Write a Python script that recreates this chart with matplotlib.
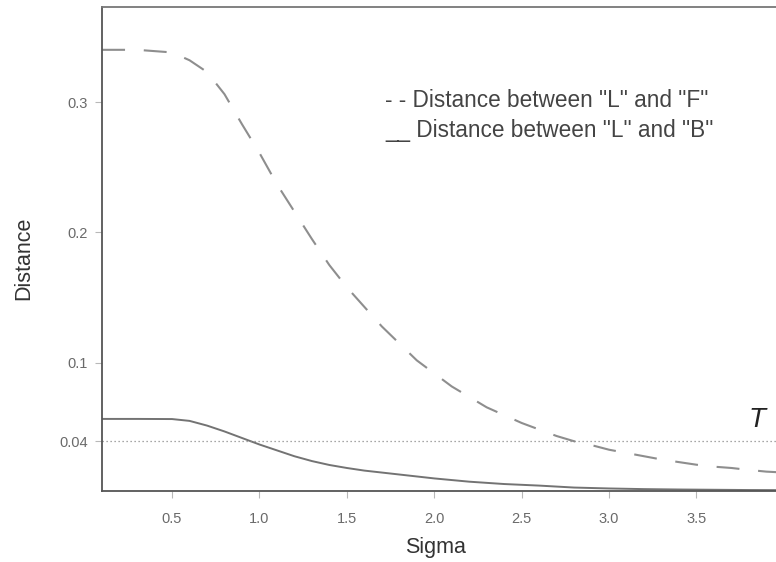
import matplotlib
matplotlib.use("Agg")
import matplotlib.pyplot as plt

plt.rcParams['font.family'] = ['Liberation Sans', 'DejaVu Sans']

sigma_lf = [0.10, 0.30, 0.50, 0.60, 0.70, 0.80, 0.90, 1.00, 1.10, 1.20, 1.30, 1.40,
            1.50, 1.60, 1.70, 1.80, 1.90, 2.00, 2.10, 2.20, 2.30, 2.40, 2.50, 2.60,
            2.70, 2.80, 2.90, 3.00, 3.10, 3.20, 3.30, 3.40, 3.50, 3.60, 3.70, 3.80,
            3.90, 4.00]
dist_lf = [0.340, 0.340, 0.338, 0.332, 0.323, 0.306, 0.283, 0.261, 0.237, 0.216, 0.195,
           0.175, 0.158, 0.143, 0.128, 0.115, 0.102, 0.092, 0.082, 0.074, 0.066, 0.060,
           0.054, 0.049, 0.044, 0.040, 0.037, 0.0335, 0.031, 0.0285, 0.026, 0.024,
           0.022, 0.0205, 0.0195, 0.018, 0.0167, 0.016]

sigma_lb = [0.10, 0.30, 0.50, 0.60, 0.70, 0.80, 0.90, 1.00, 1.10, 1.20, 1.30, 1.40,
            1.50, 1.60, 1.70, 1.80, 1.90, 2.00, 2.20, 2.40, 2.60, 2.80, 3.00, 3.20,
            3.40, 3.60, 3.80, 4.00]
dist_lb = [0.0571, 0.0571, 0.0570, 0.0556, 0.0520, 0.0475, 0.0425, 0.0375, 0.0330,
           0.0285, 0.0248, 0.0218, 0.0195, 0.0175, 0.0160, 0.0145, 0.0130, 0.0115,
           0.0090, 0.0072, 0.0060, 0.0045, 0.0038, 0.0033, 0.0030, 0.0028, 0.0026,
           0.0025]

threshold = 0.04
x_ticks = [0.5, 1.0, 1.5, 2.0, 2.5, 3.0, 3.5]
x_ticklabels = ["0.5", "1.0", "1.5", "2.0", "2.5", "3.0", "3.5"]
y_ticks = [0.04, 0.1, 0.2, 0.3]
y_ticklabels = ["0.04", "0.1", "0.2", "0.3"]
legend_labels = ['- - Distance between "L" and "F"', '__ Distance between "L" and "B"']

fig = plt.figure(figsize=(7.76, 5.62), dpi=100)
ax = fig.add_axes([0.1316, 0.1269, 0.8785, 0.8606])

ax.plot(sigma_lf, dist_lf, color='#8e8e8e', lw=1.5, linestyle=(0, (11, 9)))
ax.plot(sigma_lb, dist_lb, color='#737373', lw=1.4)
ax.axhline(threshold, color='#8a8a8a', lw=0.9, linestyle=(0, (1, 2.2)))

ax.set_xlim(0.1, 4.0)
ax.set_ylim(0.0021, 0.3728)
ax.set_xticks(x_ticks)
ax.set_xticklabels(x_ticklabels)
ax.set_yticks(y_ticks)
ax.set_yticklabels(y_ticklabels)
ax.tick_params(axis='both', colors='#b8b8b8', labelcolor='#6a6a6a', labelsize=10.5,
               length=5, width=0.8)
ax.tick_params(axis='x', pad=10)
ax.tick_params(axis='y', pad=5)

for side in ['left', 'bottom', 'top']:
    ax.spines[side].set_color('#555555')
    ax.spines[side].set_linewidth(1.3)
ax.spines['top'].set_color('#777777')
ax.spines['right'].set_visible(False)

ax.set_xlabel('Sigma', fontsize=15.5, color='#333333', va='center')
ax.xaxis.set_label_coords(0.4885, -0.118)
ax.set_ylabel('Distance', fontsize=15.5, color='#333333', va='center')
ax.yaxis.set_label_coords(-0.1144, 0.481)

ax.text(0.415, 0.806, legend_labels[0], transform=ax.transAxes,
        fontsize=16.3, color='#444444', va='center', ha='left')
ax.text(0.415, 0.744, legend_labels[1], transform=ax.transAxes,
        fontsize=16.3, color='#444444', va='center', ha='left')

ax.text(3.80, 0.046, 'T', fontsize=20, fontstyle='italic', color='#222222',
        ha='left', va='bottom')

fig.savefig('out.png', dpi=100)
